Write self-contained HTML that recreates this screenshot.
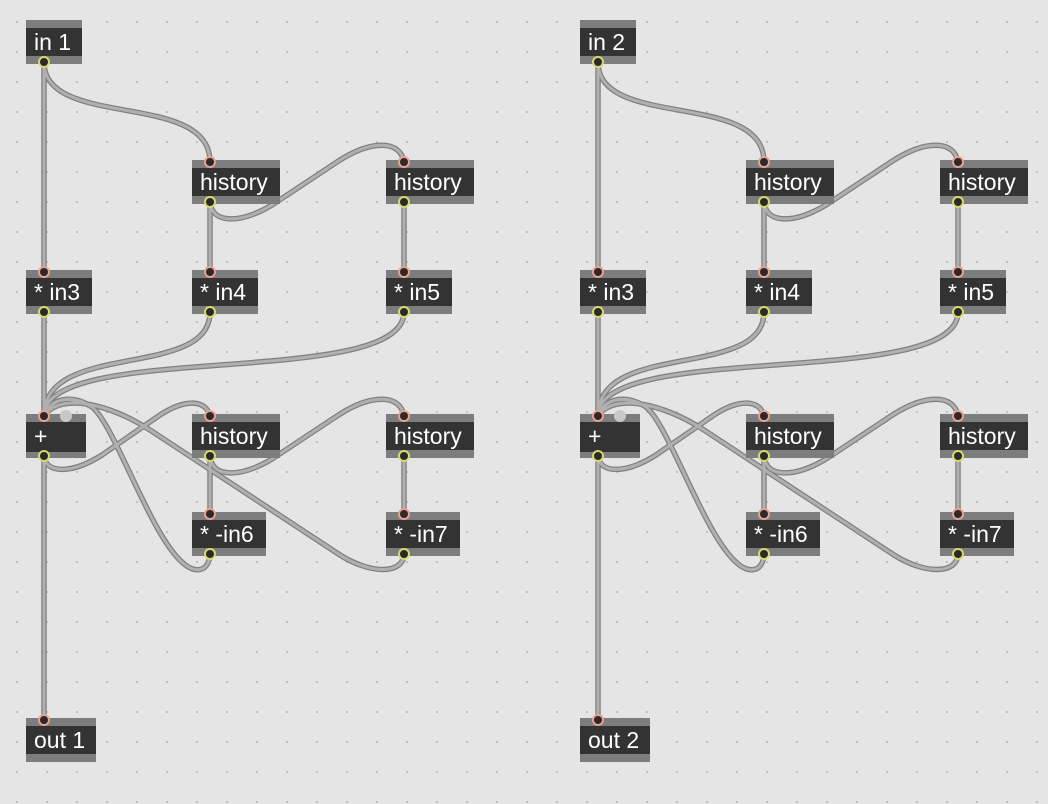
<!DOCTYPE html>
<html><head><meta charset="utf-8"><style>
html,body{margin:0;padding:0;background:#e5e5e5}
svg{display:block}
text{font-family:"Liberation Sans",sans-serif;font-size:23px;fill:#fff}
</style></head><body>
<svg width="1048" height="804" viewBox="0 0 1048 804" xmlns="http://www.w3.org/2000/svg">
<defs>
<pattern id="dots" x="0" y="0" width="30" height="30" patternUnits="userSpaceOnUse">
<circle cx="17" cy="22" r="1" fill="#b4b4b4"/>
</pattern>
<g id="cables">
<path d="M44 62 L44 272"/>
<path d="M44 62 C44 130 210 90 210 162"/>
<path d="M210 202 L210 272"/>
<path d="M210 202 C212 224 240 224 272 205 L340 160 C372 140 400 140 404 162"/>
<path d="M404 202 L404 272"/>
<path d="M44 312 L44 416"/>
<path d="M210 312 C210 380 44 340 44 416"/>
<path d="M404 312 C404 390 44 340 44 416"/>
<path d="M44 456 L44 720"/>
<path d="M44 456 C46 474 72 474 102 455 L160 415 C186 398 206 400 210 416"/>
<path d="M210 456 L210 514"/>
<path d="M210 456 C212 478 240 478 272 459 L340 414 C372 394 400 394 404 416"/>
<path d="M404 456 L404 514"/>
<path d="M210 554 C209 572 195 574 183 563 C150 535 115 425 92 407 C72 394 50 398 44 416"/>
<path d="M404 554 C403 575 370 574 340 555 L150 430 C110 404 60 392 44 416"/>
</g>
</defs>
<rect width="1048" height="804" fill="#e5e5e5"/>
<rect width="1048" height="804" fill="url(#dots)"/>
<g fill="none" stroke-linecap="round" stroke-linejoin="round">
<use href="#cables" stroke="#808080" stroke-width="5.5"/>
<use href="#cables" stroke="#b0b0b0" stroke-width="3"/>
<use href="#cables" x="554" stroke="#808080" stroke-width="5.5"/>
<use href="#cables" x="554" stroke="#b0b0b0" stroke-width="3"/>
</g>
<g>
<rect x="26" y="20" width="56" height="44" fill="#7d7d7d"/><rect x="26" y="28" width="56" height="28" fill="#333"/><text x="34" y="50">in 1</text>
<rect x="192" y="160" width="88" height="44" fill="#7d7d7d"/><rect x="192" y="168" width="88" height="28" fill="#333"/><text x="200" y="190">history</text>
<rect x="386" y="160" width="88" height="44" fill="#7d7d7d"/><rect x="386" y="168" width="88" height="28" fill="#333"/><text x="394" y="190">history</text>
<rect x="26" y="270" width="66" height="44" fill="#7d7d7d"/><rect x="26" y="278" width="66" height="28" fill="#333"/><text x="34" y="300">* in3</text>
<rect x="192" y="270" width="66" height="44" fill="#7d7d7d"/><rect x="192" y="278" width="66" height="28" fill="#333"/><text x="200" y="300">* in4</text>
<rect x="386" y="270" width="66" height="44" fill="#7d7d7d"/><rect x="386" y="278" width="66" height="28" fill="#333"/><text x="394" y="300">* in5</text>
<rect x="26" y="414" width="60" height="44" fill="#7d7d7d"/><rect x="26" y="422" width="60" height="30" fill="#333"/><text x="34" y="444">+</text>
<rect x="192" y="414" width="88" height="44" fill="#7d7d7d"/><rect x="192" y="422" width="88" height="28" fill="#333"/><text x="200" y="444">history</text>
<rect x="386" y="414" width="88" height="44" fill="#7d7d7d"/><rect x="386" y="422" width="88" height="28" fill="#333"/><text x="394" y="444">history</text>
<rect x="192" y="512" width="74" height="44" fill="#7d7d7d"/><rect x="192" y="520" width="74" height="28" fill="#333"/><text x="200" y="542">* -in6</text>
<rect x="386" y="512" width="74" height="44" fill="#7d7d7d"/><rect x="386" y="520" width="74" height="28" fill="#333"/><text x="394" y="542">* -in7</text>
<rect x="26" y="718" width="70" height="44" fill="#7d7d7d"/><rect x="26" y="726" width="70" height="28" fill="#333"/><text x="34" y="748">out 1</text>
<rect x="580" y="20" width="56" height="44" fill="#7d7d7d"/><rect x="580" y="28" width="56" height="28" fill="#333"/><text x="588" y="50">in 2</text>
<rect x="746" y="160" width="88" height="44" fill="#7d7d7d"/><rect x="746" y="168" width="88" height="28" fill="#333"/><text x="754" y="190">history</text>
<rect x="940" y="160" width="88" height="44" fill="#7d7d7d"/><rect x="940" y="168" width="88" height="28" fill="#333"/><text x="948" y="190">history</text>
<rect x="580" y="270" width="66" height="44" fill="#7d7d7d"/><rect x="580" y="278" width="66" height="28" fill="#333"/><text x="588" y="300">* in3</text>
<rect x="746" y="270" width="66" height="44" fill="#7d7d7d"/><rect x="746" y="278" width="66" height="28" fill="#333"/><text x="754" y="300">* in4</text>
<rect x="940" y="270" width="66" height="44" fill="#7d7d7d"/><rect x="940" y="278" width="66" height="28" fill="#333"/><text x="948" y="300">* in5</text>
<rect x="580" y="414" width="60" height="44" fill="#7d7d7d"/><rect x="580" y="422" width="60" height="30" fill="#333"/><text x="588" y="444">+</text>
<rect x="746" y="414" width="88" height="44" fill="#7d7d7d"/><rect x="746" y="422" width="88" height="28" fill="#333"/><text x="754" y="444">history</text>
<rect x="940" y="414" width="88" height="44" fill="#7d7d7d"/><rect x="940" y="422" width="88" height="28" fill="#333"/><text x="948" y="444">history</text>
<rect x="746" y="512" width="74" height="44" fill="#7d7d7d"/><rect x="746" y="520" width="74" height="28" fill="#333"/><text x="754" y="542">* -in6</text>
<rect x="940" y="512" width="74" height="44" fill="#7d7d7d"/><rect x="940" y="520" width="74" height="28" fill="#333"/><text x="948" y="542">* -in7</text>
<rect x="580" y="718" width="70" height="44" fill="#7d7d7d"/><rect x="580" y="726" width="70" height="28" fill="#333"/><text x="588" y="748">out 2</text>
</g>
<g id="ports">
<g fill="#2a2a2a" stroke="#e8a090" stroke-width="2">
<circle cx="210" cy="162" r="5"/><circle cx="404" cy="162" r="5"/>
<circle cx="44" cy="272" r="5"/><circle cx="210" cy="272" r="5"/><circle cx="404" cy="272" r="5"/>
<circle cx="44" cy="416" r="5"/><circle cx="210" cy="416" r="5"/><circle cx="404" cy="416" r="5"/>
<circle cx="210" cy="514" r="5"/><circle cx="404" cy="514" r="5"/>
<circle cx="44" cy="720" r="5"/>
</g>
<circle cx="66" cy="416" r="6" fill="#c8c8c8"/>
<g fill="#2a2a2a" stroke="#d8d870" stroke-width="2">
<circle cx="44" cy="62" r="5"/>
<circle cx="210" cy="202" r="5"/><circle cx="404" cy="202" r="5"/>
<circle cx="44" cy="312" r="5"/><circle cx="210" cy="312" r="5"/><circle cx="404" cy="312" r="5"/>
<circle cx="44" cy="456" r="5"/><circle cx="210" cy="456" r="5"/><circle cx="404" cy="456" r="5"/>
<circle cx="210" cy="554" r="5"/><circle cx="404" cy="554" r="5"/>
</g>
</g>
<use href="#ports" x="554"/>
</svg>
</body></html>
